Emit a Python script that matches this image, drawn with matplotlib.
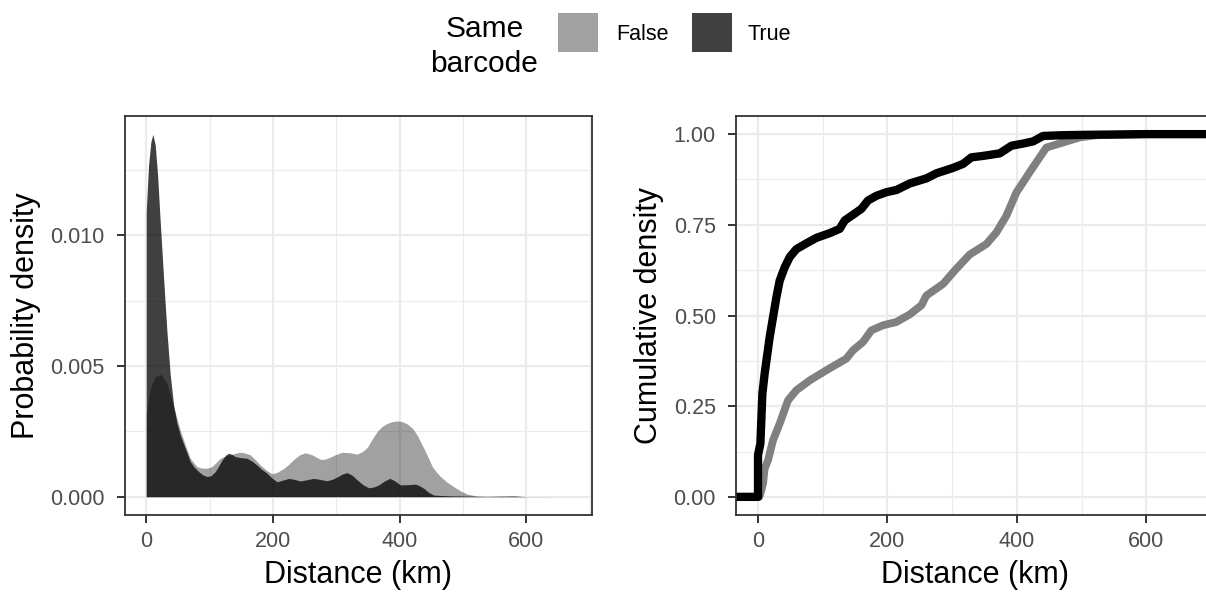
import numpy as np
import matplotlib
matplotlib.use("Agg")
import matplotlib.pyplot as plt
from matplotlib.patches import Rectangle
from matplotlib.ticker import MultipleLocator, FormatStrFormatter

plt.rcParams['font.family'] = ['Liberation Sans', 'DejaVu Sans']

# density estimates (km, density)
true_km = [0, 3.7, 7.4, 10.5, 14.2, 17.9, 22.1, 27.4, 32.7, 37.9, 43.2, 48.4, 53.7,
           61.6, 69.5, 76, 82.7, 89, 95.8, 102, 109, 114, 119.6, 125, 130, 135, 140.6,
           150, 159, 167, 174.8, 182, 190.6, 198, 206.5, 215, 225, 234, 243, 254, 264,
           275, 285, 293, 301, 309, 317, 325, 333, 342, 351, 359, 367, 376, 384.4,
           392, 401, 413, 425, 431, 438, 446, 454, 470, 485, 538, 580, 600]
true_dens = [0.0109, 0.01269, 0.01358, 0.01386, 0.01345, 0.01231, 0.01052, 0.00836,
             0.00631, 0.00466, 0.00351, 0.00281, 0.00236, 0.00185, 0.00134, 0.00112,
             0.00096, 0.00084, 0.00077, 0.0008, 0.00096, 0.00116, 0.0014, 0.00158,
             0.00166, 0.00162, 0.00153, 0.00149, 0.00147, 0.00136, 0.00121, 0.00105,
             0.0009, 0.00072, 0.00057, 0.00063, 0.0007, 0.00066, 0.0006, 0.00065,
             0.0007, 0.00066, 0.00061, 0.00066, 0.00075, 0.00086, 0.00092, 0.00082,
             0.00064, 0.00046, 0.00034, 0.00037, 0.00045, 0.0006, 0.0007, 0.00061,
             0.00045, 0.00046, 0.00048, 0.00042, 0.00032, 0.00016, 0.00006, 0.00004,
             0.00003, 0.00001, 0.00003, 0.0]

false_km = [0, 6.3, 14.2, 23.2, 32.7, 43.2, 53.7, 61.6, 69.5, 80, 88, 95.8, 103.7,
            110, 117, 125, 133, 140, 148.5, 156, 164.3, 172, 180, 190, 198.5, 207,
            217, 225, 233, 242, 251, 262, 274.6, 281, 288, 298, 309, 321, 333, 341,
            349, 356, 364.4, 372, 380, 388, 396, 404, 412, 420, 427.5, 438, 445,
            451.4, 458, 464.4, 475, 485.5, 496, 506.6, 522.5, 580, 659]
false_dens = [0.00313, 0.00415, 0.00459, 0.00468, 0.00434, 0.00344, 0.00255, 0.00198,
              0.00147, 0.00115, 0.00109, 0.00109, 0.00115, 0.0013, 0.00147, 0.00155,
              0.0016, 0.00166, 0.0017, 0.00167, 0.0016, 0.00142, 0.00121, 0.00101,
              0.00087, 0.00094, 0.00108, 0.00124, 0.00143, 0.0016, 0.00168, 0.0016,
              0.00143, 0.00143, 0.00149, 0.0016, 0.0017, 0.00168, 0.00163, 0.00172,
              0.00189, 0.00218, 0.00249, 0.00268, 0.0028, 0.00287, 0.0029, 0.00287,
              0.00278, 0.00262, 0.00236, 0.00185, 0.0015, 0.00115, 0.00094, 0.00077,
              0.00055, 0.00038, 0.00022, 0.0001, 0.00002, 0.00001, 0.0]

# cumulative curves (km, fraction)
true_ecdf_km = [-60, 0, 0, 3.7, 6.8, 10.3, 18, 23.2, 28.4, 33.5, 41.3, 49, 59.3, 74.8,
                90.2, 110.8, 126.3, 134, 147, 159.8, 170, 183, 198.5, 214, 234.5,
                260.3, 275.8, 301.5, 317, 329.8, 347.9, 373.6, 391.7, 409.7, 425.2,
                440.6, 471.5, 502.4, 600, 760]
true_ecdf = [0, 0, 0.115, 0.147, 0.285, 0.34, 0.44, 0.495, 0.55, 0.596, 0.633, 0.661,
             0.683, 0.699, 0.714, 0.727, 0.739, 0.762, 0.778, 0.794, 0.817, 0.83, 0.84,
             0.846, 0.864, 0.878, 0.892, 0.907, 0.918, 0.936, 0.94, 0.947, 0.968,
             0.974, 0.98, 0.995, 0.997, 0.998, 1.0, 1.0]

false_ecdf_km = [-60, 2, 5.2, 7.8, 10.3, 15.5, 23.2, 33.5, 46.4, 59.3, 79.9, 105.6,
                 136.5, 146.8, 162.3, 175.2, 193.2, 213.8, 234.5, 252.5, 260.3, 286,
                 306.6, 327.2, 353, 368.4, 383.9, 399.3, 419.9, 435.4, 445.7, 471.5,
                 497.2, 523, 600, 760]
false_ecdf = [0, 0, 0.018, 0.037, 0.078, 0.101, 0.156, 0.202, 0.266, 0.294, 0.321,
              0.349, 0.381, 0.404, 0.427, 0.459, 0.473, 0.482, 0.503, 0.528, 0.555,
              0.587, 0.629, 0.668, 0.697, 0.729, 0.775, 0.839, 0.895, 0.936, 0.963,
              0.977, 0.991, 0.997, 1.0, 1.0]

W, H = 1206, 597
fig = plt.figure(figsize=(W / 100, H / 100), dpi=100)

def px_axes(x0, x1, y0, y1):
    return fig.add_axes([x0 / W, 1 - y1 / H, (x1 - x0) / W, (y1 - y0) / H])

ax1 = px_axes(125, 592, 116, 515)
ax2 = px_axes(736, 1213.5, 116, 515)

def style(ax):
    ax.set_axisbelow(True)
    ax.grid(True, which='major', color='#ebebeb', lw=1.6)
    ax.grid(True, which='minor', color='#ebebeb', lw=0.8)
    for s in ax.spines.values():
        s.set_color('#333333')
        s.set_linewidth(1.3)
    ax.tick_params(which='major', length=5.5, width=1.4, color='#333333',
                   labelsize=15.5, labelcolor='#4d4d4d', pad=6)
    ax.tick_params(axis='y', which='major', pad=9)
    ax.tick_params(which='minor', length=0)
    ax.xaxis.set_major_locator(MultipleLocator(200))
    ax.xaxis.set_minor_locator(MultipleLocator(100))
    ax.set_xlabel('Distance (km)', fontsize=22, labelpad=6)

# left: densities
ax1.fill_between(true_km, true_dens, 0, color='black', alpha=0.75, lw=0)
ax1.fill_between(false_km, false_dens, 0, color='black', alpha=0.37, lw=0)
style(ax1)
ax1.set_xlim(-33.5, 703.5)
ax1.set_ylim(-0.0007, 0.01456)
ax1.yaxis.set_major_locator(MultipleLocator(0.005))
ax1.yaxis.set_minor_locator(MultipleLocator(0.0025))
ax1.yaxis.set_major_formatter(FormatStrFormatter('%.3f'))
ax1.set_ylabel('Probability density', fontsize=22, labelpad=7)

# right: cumulative
ax2.plot(false_ecdf_km, false_ecdf, color='#808080', lw=5.6, solid_capstyle='round',
         solid_joinstyle='round')
ax2.plot(true_ecdf_km, true_ecdf, color='black', lw=6.0, solid_capstyle='round',
         solid_joinstyle='round')
style(ax2)
ax2.set_xlim(-34, 704)
ax2.set_ylim(-0.05, 1.05)
ax2.yaxis.set_major_locator(MultipleLocator(0.25))
ax2.yaxis.set_minor_locator(MultipleLocator(0.125))
ax2.yaxis.set_major_formatter(FormatStrFormatter('%.2f'))
ax2.set_ylabel('Cumulative density', fontsize=22, labelpad=7)

# legend on top
fig.text(484.5 / W, 1 - 37 / H, 'Same', fontsize=21.5, ha='center', va='baseline')
fig.text(484.5 / W, 1 - 72 / H, 'barcode', fontsize=21.5, ha='center', va='baseline')
keys = [('False', 558, 616, 'black', 0.37), ('True', 692, 748, 'black', 0.75)]
for lab, kx, tx, c, a in keys:
    fig.patches.append(Rectangle((kx / W, 1 - 52 / H), 40 / W, 39 / H, color=c,
                                 alpha=a, lw=0, transform=fig.transFigure))
    fig.text(tx / W, 1 - 34 / H, lab, fontsize=15.5, ha='left', va='center')

fig.savefig('out.png', dpi=100)
